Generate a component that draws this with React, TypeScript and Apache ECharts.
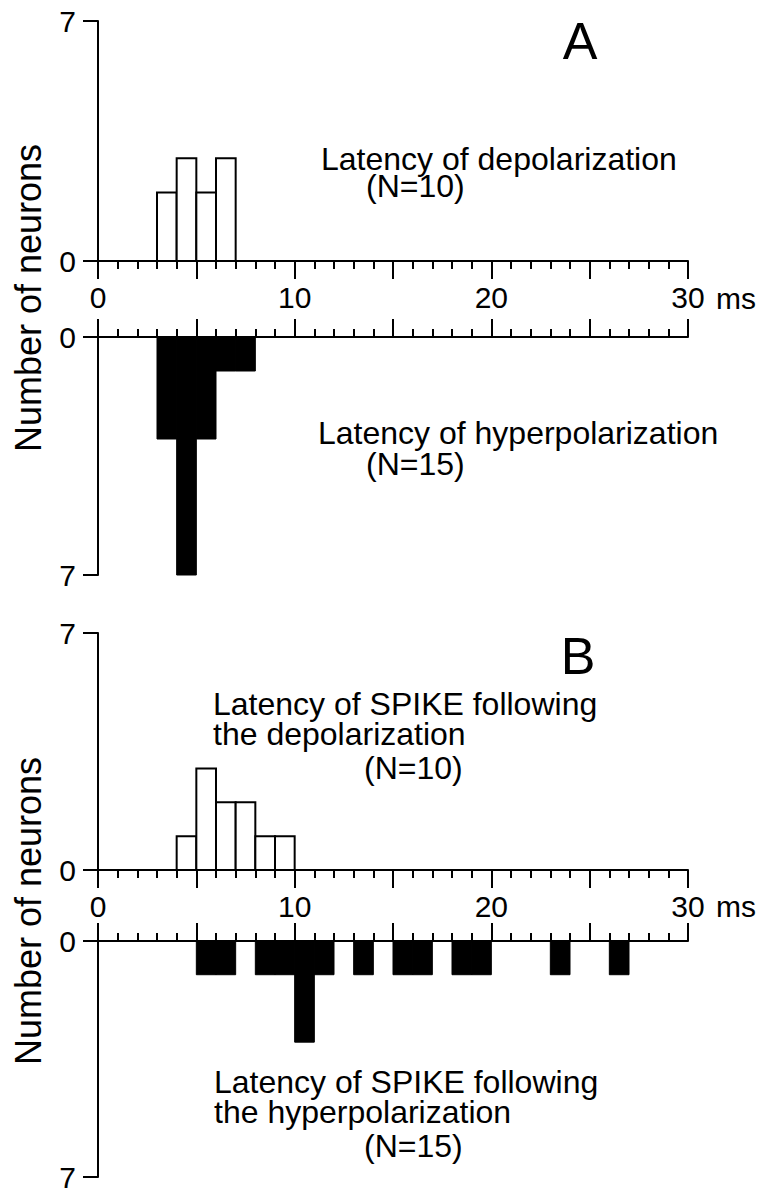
import React, { useEffect, useRef } from "react";
import * as echarts from "echarts";

// ---- data (1 ms bins, value = bin start in ms) ----
const BIN_WIDTH = 1;
const X_MIN = 0;
const X_MAX = 30;
const Y_MAX = 7;
const xLabelValues = [0, 10, 20, 30];

const depolBinsA = [3, 4, 5, 6];
const depolCountsA = [2, 3, 2, 3];

const hyperBinsA = [3, 4, 5, 6, 7];
const hyperCountsA = [3, 7, 3, 1, 1];

const spikeDepolBinsB = [4, 5, 6, 7, 8, 9];
const spikeDepolCountsB = [1, 3, 2, 2, 1, 1];

const spikeHyperBinsB = [5, 6, 8, 9, 10, 11, 13, 15, 16, 18, 19, 23, 26];
const spikeHyperCountsB = [1, 1, 1, 1, 3, 1, 1, 1, 1, 1, 1, 1, 1];

const FONT = "'Liberation Sans', Arial, Helvetica, sans-serif";

function makeData(bins: number[], counts: number[]) {
  return bins.map((b, k) => [b, b + BIN_WIDTH, counts[k]]);
}

export default function App() {
  const ref = useRef<HTMLDivElement>(null);

  useEffect(() => {
    document.body.style.margin = "0";
    if (!ref.current) return;
    const chart = echarts.init(ref.current, null, { renderer: "svg" });

    const grids = [
      { left: 98, top: 21, width: 590, height: 240 },
      { left: 98, top: 337, width: 590, height: 238 },
      { left: 98, top: 633, width: 590, height: 237 },
      { left: 98, top: 941, width: 590, height: 236 },
    ];

    const xAxes = grids.map((_, i) => ({
      type: "value",
      gridIndex: i,
      min: X_MIN,
      max: X_MAX,
      interval: 5,
      position: i % 2 === 0 ? "bottom" : "top",
      axisLine: { show: true, onZero: false, lineStyle: { color: "#000", width: 2 } },
      axisTick: { show: true, length: 18, lineStyle: { color: "#000", width: 2 } },
      minorTick: { show: true, splitNumber: 5, length: 8, lineStyle: { color: "#000", width: 2 } },
      splitLine: { show: false },
      minorSplitLine: { show: false },
      axisLabel: {
        show: i % 2 === 0,
        margin: 22,
        fontSize: 30,
        lineHeight: 28,
        fontFamily: FONT,
        color: "#000",
        formatter: (v: number) => (xLabelValues.indexOf(v) >= 0 ? String(v) : ""),
      },
    }));

    const yAxes = grids.map((_, i) => ({
      type: "value",
      gridIndex: i,
      min: 0,
      max: Y_MAX,
      interval: Y_MAX,
      inverse: i % 2 === 1,
      axisLine: { show: true, onZero: false, lineStyle: { color: "#000", width: 2 } },
      axisTick: { show: true, length: 15, lineStyle: { color: "#000", width: 2 } },
      splitLine: { show: false },
      axisLabel: { margin: 22, fontSize: 30, lineHeight: 24, fontFamily: FONT, color: "#000" },
    }));

    const renderHist = (filled: boolean) => (params: any, api: any) => {
      const x0 = api.value(0);
      const x1 = api.value(1);
      const h = api.value(2);
      const p0 = api.coord([x0, 0]);
      const p1 = api.coord([x1, h]);
      return {
        type: "rect",
        shape: {
          x: p0[0],
          y: Math.min(p0[1], p1[1]),
          width: p1[0] - p0[0],
          height: Math.abs(p1[1] - p0[1]),
        },
        style: filled
          ? { fill: "#000", stroke: "#000", lineWidth: 1 }
          : { fill: "#fff", stroke: "#000", lineWidth: 2 },
      };
    };

    const sets = [
      { data: makeData(depolBinsA, depolCountsA), filled: false },
      { data: makeData(hyperBinsA, hyperCountsA), filled: true },
      { data: makeData(spikeDepolBinsB, spikeDepolCountsB), filled: false },
      { data: makeData(spikeHyperBinsB, spikeHyperCountsB), filled: true },
    ];

    const series = sets.map((s, i) => ({
      type: "custom",
      xAxisIndex: i,
      yAxisIndex: i,
      data: s.data,
      encode: { x: [0, 1], y: 2 },
      renderItem: renderHist(s.filled),
      z: 1,
    }));

    const txt = (text: string, x: number, y: number, size: number, extra: any = {}) => ({
      type: "text",
      x,
      y,
      style: {
        text,
        fontSize: size,
        lineHeight: extra.lineHeight || size,
        fontFamily: FONT,
        fill: "#000",
        align: extra.align || "left",
        verticalAlign: "middle",
      },
    });

    const ANN = 32;
    const LH = { lineHeight: 26 };

    const graphic = [
      txt("A", 580, 41, 52, { align: "center" }),
      txt("B", 578, 656, 52, { align: "center" }),
      txt("ms", 716, 298, 30, { lineHeight: 28 }),
      txt("ms", 716, 906, 30, { lineHeight: 28 }),
      txt("Latency of depolarization", 321, 159, ANN, LH),
      txt("(N=10)", 366, 186, ANN, LH),
      txt("Latency of hyperpolarization", 318, 433, ANN, LH),
      txt("(N=15)", 366, 464, ANN, LH),
      txt("Latency of SPIKE following", 213, 704, ANN, LH),
      txt("the depolarization", 213, 734, ANN, LH),
      txt("(N=10)", 364, 768, ANN, LH),
      txt("Latency of SPIKE following", 214, 1082, ANN, LH),
      txt("the hyperpolarization", 214, 1112, ANN, LH),
      txt("(N=15)", 364, 1146, ANN, LH),
      {
        type: "text",
        x: 28,
        y: 298,
        rotation: Math.PI / 2,
        style: { text: "Number of neurons", fontSize: 36, lineHeight: 32, fontFamily: FONT, fill: "#000", align: "center", verticalAlign: "middle" },
      },
      {
        type: "text",
        x: 28,
        y: 911,
        rotation: Math.PI / 2,
        style: { text: "Number of neurons", fontSize: 36, lineHeight: 32, fontFamily: FONT, fill: "#000", align: "center", verticalAlign: "middle" },
      },
    ];

    chart.setOption({
      animation: false,
      backgroundColor: "#fff",
      grid: grids,
      xAxis: xAxes,
      yAxis: yAxes,
      series,
      graphic,
    } as any);

    return () => chart.dispose();
  }, []);

  return <div ref={ref} style={{ width: 760, height: 1193 }} />;
}
